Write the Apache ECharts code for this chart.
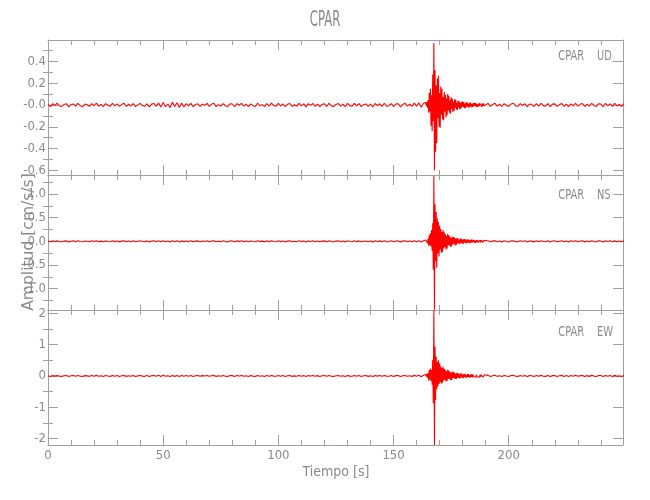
<!DOCTYPE html>
<html>
<head>
<meta charset="utf-8">
<script src="https://cdn.jsdelivr.net/npm/echarts@6/dist/echarts.min.js"></script>
<style>
html,body{margin:0;padding:0;background:#fff;}
#chart{width:650px;height:500px;}
</style>
</head>
<body>
<div id="chart"></div>
<script>
// ---- DATA (amplitudes in 0.001 cm/s/s) ----
const station = 'CPAR';
const components = ['UD', 'NS', 'EW'];
// sampling of the three stored segments (seconds)
const quietStart = 0, quietDt = 1;
const eventStart = 164, eventDt = 0.25;
const tailStart = 190, tailDt = 1;

const udQuiet = [
8,-14,11,-4,16,-9,-13,5,12,-17,
3,10,-11,14,-6,-15,9,2,-12,13,
-7,17,-10,6,-16,12,-3,-11,15,-8,
10,-13,4,16,-14,7,-9,12,-15,1,
14,-6,-12,11,-17,8,13,-10,17,-19,
22,-16,9,-24,25,-14,20,-23,17,-18,
12,-9,15,-16,5,11,-13,8,-4,14,
-12,6,16,-15,3,-10,13,-7,-14,11,
9,-16,12,-2,15,-11,7,-14,10,-6,
-13,16,-8,4,-15,12,-10,17,-5,-12,
14,-9,11,-16,6,13,-14,2,-11,15,
-7,10,-17,12,-4,14,-13,9,-15,6,
11,-12,16,-8,-14,5,13,-10,7,-16,
15,-6,-11,14,-9,12,-15,3,10,-13,
8,-17,14,-5,11,-12,16,-10,-7,13,
-14,9,12,-16,4,15,-11,7,-13,17,
-10,19,-21,16];
const udEvent = [
22,-8,30,-27,
45,-70,110,-60,
150,-190,90,-240,
280,-150,570,-600,
320,-430,180,-350,
240,-120,270,-200,
110,-210,170,-90,
150,-130,70,-140,
120,-60,95,-115,
60,-95,100,-50,
85,-70,40,-80,
70,-35,60,-65,
30,-55,52,-25,
48,-40,20,-45,
40,-22,35,-38,
18,-35,30,-15,
32,-20,26,-30,
14,-28,24,-12,
25,-18,10,-24,
20,-12,22,-19,
9,-20,18,-14,
17,-8,19,-16,
12,-17,6,-15,
16,-10,14,-4,
8,-15,13,-12,
14,-6,-13,11];
const udTail = [
-9,14,-12,5,15,-11,7,-14,12,-3,
-13,10,16,-8,-12,13,-5,11,-15,9,
4,-14,12,-10,15,-6,-11,13,-16,8,
10,-13,3,14,-12,9,-15,11,-7,16,
-10,6,13,-14,8,-11,15,-4,-13,12,
9,-15,14,-7,11,-12,16,-9,5,-14,12];

const nsQuiet = [
6,-11,9,-3,12,-8,-10,5,9,-12,
3,10,-9,11,-5,-10,7,2,-10,11,
-6,12,-8,4,-11,9,-3,-10,10,-7,
8,-12,4,11,-10,6,-8,10,-11,2,
10,-5,-9,9,-12,7,10,-8,13,-11,
14,-9,6,-13,12,-10,11,-12,9,-7,
8,-6,10,-11,4,9,-10,7,-3,10,
-9,5,12,-10,3,-8,10,-6,-11,9,
7,-11,9,-2,11,-9,6,-10,8,-5,
-10,12,-6,4,-11,9,-8,11,-4,-9,
10,-7,8,-12,5,10,-10,2,-8,11,
-6,8,-12,9,-4,10,-10,7,-11,5,
9,-9,11,-6,-10,4,10,-8,6,-12,
11,-5,-8,10,-7,9,-11,3,8,-10,
6,-12,10,-4,9,-9,12,-8,-6,10,
-10,7,9,-12,4,11,-8,6,-10,12,
-9,13,-14,12];
const nsEvent = [
30,-12,45,-38,
60,-95,140,-80,
170,-110,240,-200,
380,-600,1380,-1440,
780,-420,620,-560,
480,-250,410,-320,
330,-180,260,-240,
200,-230,240,-150,
190,-120,150,-170,
110,-150,160,-90,
130,-80,100,-120,
70,-105,95,-60,
90,-50,80,-85,
55,-78,70,-40,
66,-45,38,-60,
52,-30,58,-48,
30,-52,48,-25,
46,-36,22,-44,
40,-20,38,-35,
18,-38,34,-22,
36,-25,30,-16,
28,-32,15,-30,
31,-18,27,-24,
14,-28,26,-20,
27,-15,22,-26,
18,-24,25,-12];
const nsTail = [
-8,13,-11,4,14,-10,6,-12,10,-3,
-12,9,13,-7,-10,12,-5,10,-13,7,
4,-12,11,-9,13,-5,-10,12,-13,7,
9,-11,3,12,-10,8,-13,10,-6,13,
-9,5,12,-12,7,-10,13,-4,-11,10,
8,-13,12,-6,10,-10,13,-8,5,-11,10];

const ewQuiet = [
8,-15,13,-5,17,-11,-14,6,12,-18,
4,14,-12,16,-8,-15,10,3,-13,15,
-8,18,-11,6,-16,13,-4,-14,15,-10,
12,-17,5,16,-14,8,-11,14,-16,2,
15,-6,-13,12,-18,9,14,-12,19,-15,
20,-12,9,-19,17,-14,16,-18,13,-10,
11,-9,14,-17,6,12,-13,10,-4,15,
-13,7,17,-14,4,-12,14,-8,-15,12,
10,-17,13,-3,16,-12,8,-15,11,-6,
-14,17,-9,5,-16,13,-11,16,-6,-12,
15,-10,12,-17,6,14,-14,3,-11,15,
-8,11,-18,13,-5,15,-13,10,-16,7,
12,-13,16,-9,-15,6,14,-11,8,-17,
15,-6,-12,15,-10,13,-16,4,11,-14,
9,-18,15,-6,12,-13,17,-11,-8,14,
-15,10,13,-17,5,16,-12,8,-14,18,
-13,20,-24,20];
const ewEvent = [
45,-20,70,-58,
90,-150,190,-110,
240,-160,200,-280,
520,-870,2110,-2210,
940,-770,620,-420,
450,-330,500,-260,
400,-190,310,-240,
250,-220,290,-150,
230,-120,190,-170,
150,-160,200,-100,
170,-90,130,-140,
100,-125,140,-70,
120,-65,105,-100,
70,-95,100,-55,
95,-60,55,-85,
75,-40,80,-65,
45,-70,68,-35,
66,-50,30,-60,
58,-30,55,-48,
28,-52,50,-32,
50,-36,44,-24,
40,-45,22,-42,
44,-26,38,-34,
20,-40,37,-30,
38,-22,33,-36,
26,-35,36,-18];
const ewTail = [
-11,19,-16,6,20,-14,9,-18,15,-4,
-17,12,19,-10,-15,16,-7,14,-18,10,
6,-17,16,-12,18,-8,-14,16,-19,10,
12,-16,4,18,-15,11,-18,14,-9,19,
-13,8,17,-17,10,-14,18,-5,-16,15,
12,-18,17,-9,14,-15,19,-12,7,-16,14];

// axis ranges and tick labels
const xMin = 0, xMax = 249.6, xStep = 50;
const yMins = [-0.643, -1.45, -2.21];
const yMaxs = [0.597, 1.40, 2.11];
const yMajors = [[-0.6,-0.4,-0.2,0,0.2,0.4], [-1,-0.5,0,0.5,1], [-2,-1,0,1,2]];
const yLabels = [['-0.6','-0.4','-0.2','-0.0','0.2','0.4'], ['-1.0','-0.5','0.0','0.5','1.0'], ['-2','-1','0','1','2']];
const yMinors = [[-0.5,-0.3,-0.1,0.1,0.3,0.5], [-1.25,-0.75,-0.25,0.25,0.75,1.25], [-1.5,-0.5,0.5,1.5]];

// ---- build ----
function buildTrace(q, e, t) {
  const d = [];
  q.forEach((v, i) => d.push([quietStart + i * quietDt, v / 1000]));
  e.forEach((v, i) => d.push([eventStart + i * eventDt, v / 1000]));
  t.forEach((v, i) => d.push([tailStart + i * tailDt, v / 1000]));
  return d;
}
const traces = [buildTrace(udQuiet, udEvent, udTail), buildTrace(nsQuiet, nsEvent, nsTail), buildTrace(ewQuiet, ewEvent, ewTail)];

const FONT = "'Liberation Sans Narrow', 'DejaVu Sans Condensed', 'Liberation Sans', sans-serif";
const AX = '#a0a0a0';
const TX = '#8a8a8a';
const panelTops = [40, 175, 310];
const panelH = 135;

const grids = [], xAxes = [], yAxes = [], series = [], graphics = [];
for (let p = 0; p < 3; p++) {
  grids.push({left: 48, right: 27, top: panelTops[p], height: panelH, outerBoundsMode: 'none'});
  ['bottom', 'top'].forEach(pos => {
    xAxes.push({
      type: 'value', gridIndex: p, position: pos, min: xMin, max: xMax, interval: xStep,
      axisLine: {show: true, onZero: false, lineStyle: {color: AX, width: 1}},
      axisTick: {show: true, inside: true, length: 10, lineStyle: {color: AX}},
      minorTick: {show: true, splitNumber: 5, length: 5, lineStyle: {color: AX}},
      splitLine: {show: false},
      axisLabel: {show: p === 2 && pos === 'bottom', showMaxLabel: false, color: TX, fontFamily: FONT, fontSize: 13, margin: 4},
    });
  });
  ['left', 'right'].forEach(pos => {
    yAxes.push({
      type: 'value', gridIndex: p, position: pos, min: yMins[p], max: yMaxs[p],
      axisLine: {show: true, onZero: false, lineStyle: {color: AX, width: 1}},
      axisTick: {show: true, inside: true, length: 10, customValues: yMajors[p], lineStyle: {color: AX}},
      splitLine: {show: false},
      axisLabel: {
        show: pos === 'left', customValues: yMajors[p], color: TX, fontFamily: FONT, fontSize: 13, margin: 2,
        formatter: v => { const k = yMajors[p].findIndex(m => Math.abs(m - v) < 1e-9); return k >= 0 ? yLabels[p][k] : ''; }
      },
    });
    yAxes.push({
      type: 'value', gridIndex: p, position: pos, min: yMins[p], max: yMaxs[p],
      axisLine: {show: false},
      axisTick: {show: true, inside: true, length: 5, customValues: yMinors[p], lineStyle: {color: AX}},
      splitLine: {show: false},
      axisLabel: {show: false},
    });
  });
  series.push({
    type: 'line', xAxisIndex: p * 2, yAxisIndex: p * 4, data: traces[p],
    showSymbol: false, symbol: 'none', sampling: null, animation: false,
    lineStyle: {color: '#ff0000', width: 1.1}, z: 1,
  });
  const ly = [56, 195, 332][p];
  graphics.push({type: 'text', x: 584, y: ly, scaleX: 0.78, style: {text: station, font: '14px ' + FONT, fill: TX, textAlign: 'right', textVerticalAlign: 'middle'}});
  graphics.push({type: 'text', x: 597, y: ly, scaleX: 0.78, style: {text: components[p], font: '14px ' + FONT, fill: TX, textAlign: 'left', textVerticalAlign: 'middle'}});
}
graphics.push({type: 'text', x: 325, y: 21, scaleX: 0.62, style: {text: station, font: '21px ' + FONT, fill: TX, textAlign: 'center', textVerticalAlign: 'middle'}});
graphics.push({type: 'text', x: 336, y: 472, style: {text: 'Tiempo [s]', font: '14px ' + FONT, fill: TX, textAlign: 'center', textVerticalAlign: 'middle'}});
graphics.push({type: 'text', x: 29, y: 242, rotation: Math.PI / 2, scaleX: 1.08, style: {text: 'Amplitud [cm/s/s]', font: '16px ' + FONT, fill: TX, textAlign: 'center', textVerticalAlign: 'middle'}});

const chart = echarts.init(document.getElementById('chart'), null, {renderer: 'canvas'});
chart.setOption({
  animation: false,
  backgroundColor: '#ffffff',
  grid: grids, xAxis: xAxes, yAxis: yAxes, series: series,
  graphic: {elements: graphics},
});
</script>
</body>
</html>
